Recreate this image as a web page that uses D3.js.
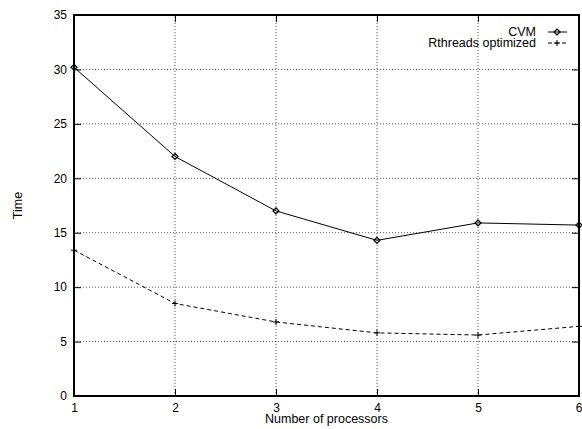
<!DOCTYPE html>
<html>
<head>
<meta charset="utf-8">
<script src="https://cdn.jsdelivr.net/npm/d3@7"></script>
<style>
  body { margin: 0; background: #fff; }
  text { font-family: "Liberation Sans", Arial, sans-serif; font-size: 12.5px; fill: #000; }
</style>
</head>
<body>
<div id="chart"></div>
<script>
var processors = [1, 2, 3, 4, 5, 6];
var cvm = [30.2, 22.0, 17.0, 14.3, 15.9, 15.7];
var rthreads = [13.4, 8.5, 6.8, 5.8, 5.6, 6.4];
var yTicks = [0, 5, 10, 15, 20, 25, 30, 35];
var seriesNames = ["CVM", "Rthreads optimized"];

var width = 582, height = 429;
var margin = { left: 74, top: 15, right: 3, bottom: 33 };
var svg = d3.select('#chart').append('svg')
    .attr('width', width)
    .attr('height', height);

var x = d3.scaleLinear().domain([1, 6]).range([margin.left, width - margin.right]);
var y = d3.scaleLinear().domain([0, 35]).range([height - margin.bottom, margin.top]);

// grid
svg.append('g').selectAll('line')
    .data(processors.slice(1, -1))
    .enter().append('line')
    .attr('x1', function (d) { return x(d); })
    .attr('x2', function (d) { return x(d); })
    .attr('y1', y(0)).attr('y2', y(35))
    .attr('stroke', '#555').attr('stroke-width', 1)
    .attr('stroke-dasharray', '1,2');

svg.append('g').selectAll('line')
    .data(yTicks.slice(1, -1))
    .enter().append('line')
    .attr('y1', function (d) { return y(d); })
    .attr('y2', function (d) { return y(d); })
    .attr('x1', x(1)).attr('x2', x(6))
    .attr('stroke', '#555').attr('stroke-width', 1)
    .attr('stroke-dasharray', '1,2');

// axes (tick marks inside)
var axL = d3.axisLeft(y).tickValues(yTicks).tickSizeInner(-7).tickSizeOuter(0).tickPadding(7);
var axR = d3.axisRight(y).tickValues(yTicks).tickSizeInner(-7).tickSizeOuter(0).tickFormat('');
var axB = d3.axisBottom(x).tickValues(processors).tickSizeInner(-7).tickSizeOuter(0)
    .tickPadding(7).tickFormat(d3.format('d'));
var axT = d3.axisTop(x).tickValues(processors).tickSizeInner(-7).tickSizeOuter(0).tickFormat('');

function styleAxis(g) {
    g.select('.domain').remove();
    g.selectAll('.tick line').attr('stroke', '#000');
    g.selectAll('.tick text').style('font-size', '12px').attr('fill', '#000');
}
svg.append('g').attr('transform', 'translate(' + x(1) + ',0)').call(axL).call(styleAxis);
svg.append('g').attr('transform', 'translate(' + x(6) + ',0)').call(axR).call(styleAxis);
var bottomAxis = svg.append('g').attr('transform', 'translate(0,' + y(0) + ')').call(axB).call(styleAxis);
svg.append('g').attr('transform', 'translate(0,' + y(35) + ')').call(axT).call(styleAxis);
// last label "6" sits against the right edge
bottomAxis.selectAll('.tick text').filter(function (d) { return d === 6; })
    .attr('text-anchor', 'end').attr('x', 3);

// frame
svg.append('rect')
    .attr('x', x(1)).attr('y', y(35))
    .attr('width', x(6) - x(1)).attr('height', y(0) - y(35))
    .attr('fill', 'none').attr('stroke', '#000').attr('stroke-width', 2);

// lines
var line = d3.line()
    .x(function (d, i) { return x(processors[i]); })
    .y(function (d) { return y(d); });

svg.append('path').datum(cvm)
    .attr('d', line).attr('fill', 'none')
    .attr('stroke', '#000').attr('stroke-width', 1);

svg.append('path').datum(rthreads)
    .attr('d', line).attr('fill', 'none')
    .attr('stroke', '#000').attr('stroke-width', 1)
    .attr('stroke-dasharray', '4,3');

function diamond(g, cx, cy) {
    g.append('path')
        .attr('d', 'M' + cx + ',' + (cy - 3) + 'L' + (cx + 3) + ',' + cy + 'L' + cx + ',' + (cy + 3) + 'L' + (cx - 3) + ',' + cy + 'Z')
        .attr('fill', 'none').attr('stroke', '#000').attr('stroke-width', 1.2);
}
function plus(g, cx, cy) {
    g.append('path')
        .attr('d', 'M' + (cx - 3) + ',' + cy + 'H' + (cx + 3) + 'M' + cx + ',' + (cy - 3) + 'V' + (cy + 3))
        .attr('stroke', '#000').attr('stroke-width', 1);
}

var marks = svg.append('g');
cvm.forEach(function (d, i) { diamond(marks, x(processors[i]), y(d)); });
rthreads.forEach(function (d, i) { plus(marks, x(processors[i]), y(d)); });

// legend
var leg = svg.append('g');
leg.append('text').attr('x', 536).attr('y', 36).attr('text-anchor', 'end').text(seriesNames[0]);
leg.append('text').attr('x', 536).attr('y', 47).attr('text-anchor', 'end').text(seriesNames[1]);
leg.append('line').attr('x1', 548).attr('x2', 567).attr('y1', 32).attr('y2', 32)
    .attr('stroke', '#000');
diamond(leg, 557, 32);
leg.append('line').attr('x1', 548).attr('x2', 567).attr('y1', 43).attr('y2', 43)
    .attr('stroke', '#000').attr('stroke-dasharray', '4,3');
plus(leg, 557, 43);

// axis labels
svg.append('text')
    .attr('x', (x(1) + x(6)) / 2).attr('y', 422.5)
    .attr('text-anchor', 'middle').text('Number of processors');
svg.append('text')
    .attr('transform', 'translate(22,' + ((y(0) + y(35)) / 2) + ') rotate(-90)')
    .attr('text-anchor', 'middle').text('Time');
</script>
</body>
</html>
